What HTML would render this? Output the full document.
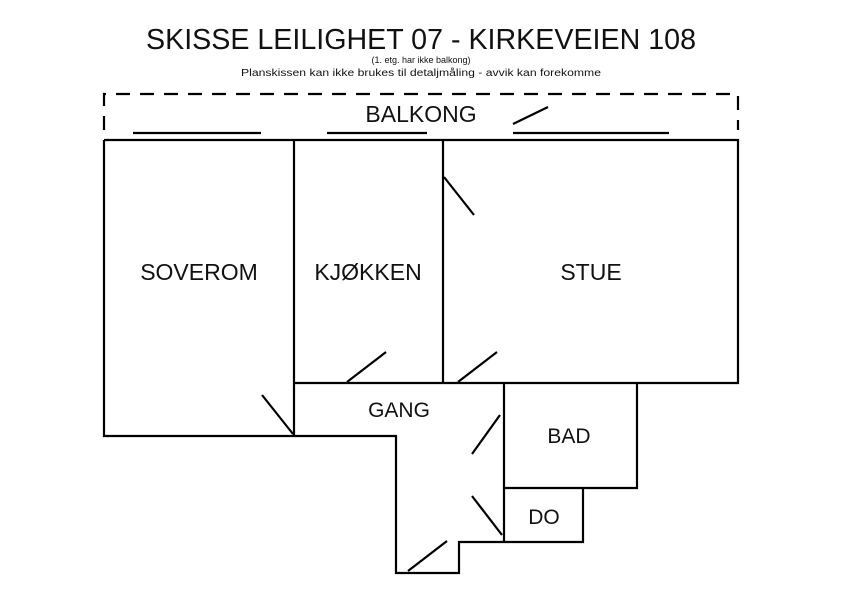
<!DOCTYPE html>
<html><head><style>
body{margin:0;background:#fff}
svg text{font-family:"Liberation Sans",sans-serif;fill:#111}
</style></head><body>
<svg width="842" height="595" viewBox="0 0 842 595" xmlns="http://www.w3.org/2000/svg">
<text x="421" y="49" font-size="29" text-anchor="middle" textLength="550" lengthAdjust="spacingAndGlyphs">SKISSE LEILIGHET 07 - KIRKEVEIEN 108</text>
<text x="421" y="63" font-size="9" text-anchor="middle">(1. etg. har ikke balkong)</text>
<text x="421" y="76" font-size="10" text-anchor="middle" textLength="360" lengthAdjust="spacingAndGlyphs">Planskissen kan ikke brukes til detaljmåling - avvik kan forekomme</text>
<g stroke="#000" stroke-width="2.2" fill="none">
<path d="M104 130 V94 H738 V130" stroke-dasharray="14 10"/>
<path d="M133 133H261M327 133H427M513 133H669M513 124L548 107"/>
<path d="M104 140H738V383H504M104 140V436H396V573H459V542H583V488H637V383M294 140V436M443 140V383M294 383H504V542M504 488H583"/>
<path d="M262 395L293 434M500 415L472 454M472 496L502 535M408 571L447 541M347 382L386 352M458 382L497 352M444 177L474 215"/>
</g>
<g font-size="23" text-anchor="middle">
<text x="421" y="122">BALKONG</text>
<text x="199" y="280">SOVEROM</text>
<text x="368" y="280">KJØKKEN</text>
<text x="591" y="280">STUE</text>
<text x="399" y="417" font-size="21">GANG</text>
<text x="569" y="443" font-size="21">BAD</text>
<text x="544" y="524" font-size="21">DO</text>
</g>
</svg>
</body></html>
